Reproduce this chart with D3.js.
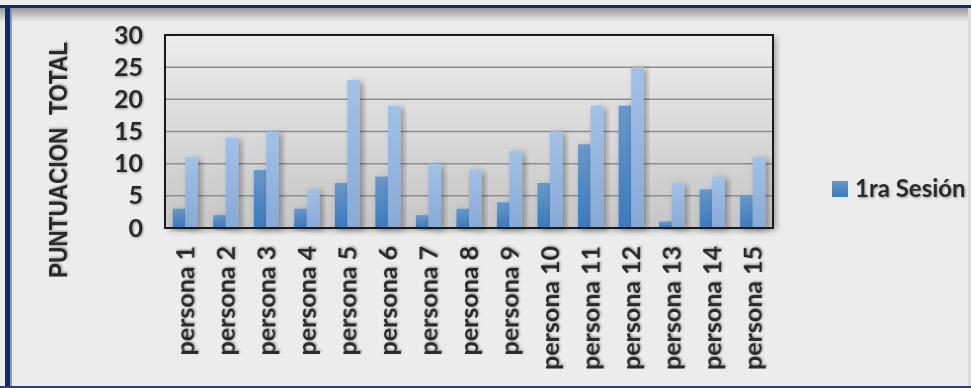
<html lang="es">
<head>
<meta charset="UTF-8">
<title>Puntuacion total</title>
<style>
  body { margin: 0; background: #ececec; }
  text { font-family: Lato, "Open Sans", sans-serif; font-weight: 700; fill: #2b2b2b; }
</style>
</head>
<body>
<div id="chart"></div>
<script src="https://d3js.org/d3.v7.min.js"></script>
<script>
const personas = ["persona 1","persona 2","persona 3","persona 4","persona 5","persona 6","persona 7","persona 8",
  "persona 9","persona 10","persona 11","persona 12","persona 13","persona 14","persona 15"];
const sesion1 = [3, 2, 9, 3, 7, 8, 2, 3, 4, 7, 13, 19, 1, 6, 5];
const sesion2 = [11, 14, 15, 6, 23, 19, 10, 9, 12, 15, 19, 25, 7, 8, 11];
const yTicks = [0, 5, 10, 15, 20, 25, 30];
const legendLabel = "1ra Sesión";
const yTitle = "PUNTUACION  TOTAL";

const W = 971, H = 388;
const plot = {left: 165, top: 35, right: 773, bottom: 228};

const svg = d3.select("#chart").append("svg")
  .attr("width", W).attr("height", H);

const defs = svg.append("defs");
function vgrad(id, c1, c2) {
  const g = defs.append("linearGradient").attr("id", id)
    .attr("x1", 0).attr("y1", 0).attr("x2", 0).attr("y2", 1);
  g.append("stop").attr("offset", "0%").attr("stop-color", c1);
  g.append("stop").attr("offset", "100%").attr("stop-color", c2);
}
vgrad("plotBg", "#ececec", "#c6c6c6");
vgrad("dark", "#6898c9", "#3a7abd");
vgrad("light", "#a2c1e7", "#86a9d6");
vgrad("topShade", "#9a9a9a", "#ececec");

const shadow = defs.append("filter").attr("id", "shadow")
  .attr("x", "-50%").attr("y", "-20%").attr("width", "200%").attr("height", "140%");
shadow.append("feDropShadow").attr("dx", 3).attr("dy", 2).attr("stdDeviation", 3)
  .attr("flood-color", "#000").attr("flood-opacity", 0.35);

const textShadow = defs.append("filter").attr("id", "tshadow");
textShadow.append("feDropShadow").attr("dx", 1).attr("dy", 1).attr("stdDeviation", 0.9)
  .attr("flood-color", "#000").attr("flood-opacity", 0.35);

// outer frame
svg.append("rect").attr("x", 0).attr("y", 0).attr("width", W).attr("height", H).attr("fill", "#ececec");
svg.append("rect").attr("x", 0).attr("y", 8).attr("width", W).attr("height", 14).attr("fill", "url(#topShade)");
svg.append("rect").attr("x", 0).attr("y", 5).attr("width", W).attr("height", 3).attr("fill", "#0d2a6b");
svg.append("rect").attr("x", 5).attr("y", 5).attr("width", 5).attr("height", H - 5).attr("fill", "#0d2a6b");
svg.append("rect").attr("x", 10).attr("y", 8).attr("width", 2).attr("height", H - 8).attr("fill", "#8b9ab8");
svg.append("rect").attr("x", 0).attr("y", H - 2).attr("width", W).attr("height", 2).attr("fill", "#2c4475");
svg.append("rect").attr("x", W - 3).attr("y", 8).attr("width", 3).attr("height", H - 10).attr("fill", "#dcdcdc");

const x = d3.scaleBand().domain(personas).range([plot.left, plot.right]).paddingInner(0.38).paddingOuter(0.19);
const y = d3.scaleLinear().domain([0, 30]).range([plot.bottom, plot.top]);

// plot area with shadow
svg.append("rect")
  .attr("x", plot.left).attr("y", plot.top)
  .attr("width", plot.right - plot.left).attr("height", plot.bottom - plot.top)
  .attr("fill", "url(#plotBg)")
  .attr("filter", "url(#shadow)");

// gridlines
svg.append("g").selectAll("line").data(yTicks.slice(1, -1)).join("line")
  .attr("x1", plot.left).attr("x2", plot.right)
  .attr("y1", d => y(d)).attr("y2", d => y(d))
  .attr("stroke", "#8e8e8e").attr("stroke-width", 1.5);

// bars
const half = x.bandwidth() / 2;
const groups = svg.append("g").selectAll("g").data(personas).join("g");
groups.append("rect")
  .attr("x", (d) => x(d)).attr("width", half)
  .attr("y", (d, i) => y(sesion1[i])).attr("height", (d, i) => y(0) - y(sesion1[i]))
  .attr("fill", "url(#dark)").attr("filter", "url(#shadow)");
groups.append("rect")
  .attr("x", (d) => x(d) + half).attr("width", half)
  .attr("y", (d, i) => y(sesion2[i])).attr("height", (d, i) => y(0) - y(sesion2[i]))
  .attr("fill", "url(#light)").attr("filter", "url(#shadow)");

// plot border
svg.append("rect")
  .attr("x", plot.left).attr("y", plot.top)
  .attr("width", plot.right - plot.left).attr("height", plot.bottom - plot.top)
  .attr("fill", "none").attr("stroke", "#1a1a1a").attr("stroke-width", 2);

// y axis labels
const yAxis = svg.append("g")
  .attr("transform", `translate(${plot.left - 22},0)`)
  .call(d3.axisLeft(y).tickValues(yTicks).tickSize(0).tickPadding(0));
yAxis.select(".domain").remove();
yAxis.selectAll("text")
  .style("font-family", "Lato, sans-serif").style("font-weight", 700)
  .attr("font-size", 25).attr("fill", "#2b2b2b").attr("filter", "url(#tshadow)");

// x axis labels
const xAxis = svg.append("g")
  .attr("transform", `translate(0,${plot.bottom})`)
  .call(d3.axisBottom(x).tickSize(0).tickPadding(0));
xAxis.select(".domain").remove();
xAxis.selectAll("text")
  .style("font-family", "Lato, sans-serif").style("font-weight", 700)
  .attr("font-size", 25).attr("fill", "#2b2b2b")
  .attr("text-anchor", "end").attr("dy", "0.35em")
  .attr("transform", "translate(0,18) rotate(-90)")
  .attr("x", 0).attr("y", 0)
  .attr("filter", "url(#tshadow)");

// y title
svg.append("text")
  .attr("transform", "translate(67,160) rotate(-90)")
  .attr("text-anchor", "middle")
  .style("font-family", "'Liberation Sans Narrow', 'Liberation Sans', Arial, sans-serif")
  .attr("font-size", 25).attr("xml:space", "preserve")
  .attr("textLength", 236).attr("lengthAdjust", "spacingAndGlyphs")
  .attr("filter", "url(#tshadow)")
  .text(yTitle);

// legend
const legend = svg.append("g").attr("transform", "translate(832,181)");
legend.append("rect").attr("width", 16).attr("height", 16).attr("fill", "url(#dark)");
legend.append("text").attr("x", 23).attr("y", 16).attr("font-size", 24)
  .attr("filter", "url(#tshadow)").text(legendLabel);
</script>
</body>
</html>
